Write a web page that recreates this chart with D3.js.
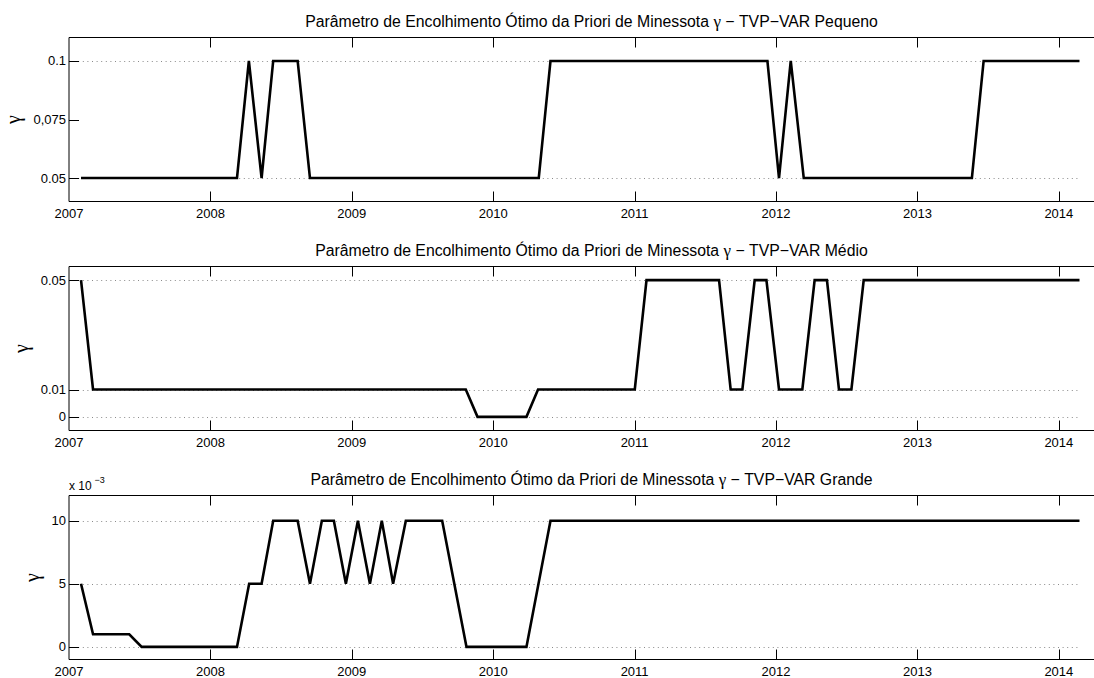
<!DOCTYPE html>
<html><head><meta charset="utf-8">
<script src="https://cdn.jsdelivr.net/npm/d3@7"></script>
<style>
body{margin:0;background:#fff;}
svg{display:block;font-family:"Liberation Sans",Arial,Helvetica,sans-serif;}
.greek{font-family:"Liberation Serif","DejaVu Serif",serif;}
</style>
</head><body><svg id="c" width="1094" height="678"></svg>
<script>
// ---------- data ----------
const yearTicks = [2007, 2008, 2009, 2010, 2011, 2012, 2013, 2014];
const yearLabels = ["2007", "2008", "2009", "2010", "2011", "2012", "2013", "2014"];
const xDomain = [2007, 2014.39];

const titlePrefix = "Parâmetro de Encolhimento Ótimo da Priori de Minessota ";
const titleGreek = "γ";
const titleSuffixes = [" − TVP−VAR Pequeno", " − TVP−VAR Médio", " − TVP−VAR Grande"];

// TVP-VAR Pequeno (vertices: decimal year, gamma)
const pequenoDates  = [2007.085, 2008.188, 2008.272, 2008.362, 2008.444, 2008.617, 2008.704, 2010.322, 2010.405, 2011.939, 2012.021, 2012.104, 2012.196, 2013.385, 2013.468, 2014.146];
const pequenoValues = [0.05, 0.05, 0.1, 0.05, 0.1, 0.1, 0.05, 0.05, 0.1, 0.1, 0.05, 0.1, 0.05, 0.05, 0.1, 0.1];

// TVP-VAR Médio
const medioDates  = [2007.085, 2007.170, 2009.806, 2009.889, 2010.235, 2010.317, 2011.001, 2011.084, 2011.597, 2011.679, 2011.762, 2011.849, 2011.932, 2012.021, 2012.186, 2012.273, 2012.360, 2012.445, 2012.533, 2012.620, 2014.146];
const medioValues = [0.05, 0.01, 0.01, 0, 0, 0.01, 0.01, 0.05, 0.05, 0.01, 0.01, 0.05, 0.05, 0.01, 0.01, 0.05, 0.05, 0.01, 0.01, 0.05, 0.05];

// TVP-VAR Grande
const grandeDates  = [2007.085, 2007.170, 2007.426, 2007.514, 2008.188, 2008.274, 2008.362, 2008.444, 2008.617, 2008.704, 2008.788, 2008.873, 2008.958, 2009.043, 2009.128, 2009.212, 2009.292, 2009.382, 2009.639, 2009.811, 2010.235, 2010.405, 2014.146];
const grandeValues = [0.005, 0.001, 0.001, 0, 0, 0.005, 0.005, 0.01, 0.01, 0.005, 0.01, 0.01, 0.005, 0.01, 0.005, 0.01, 0.005, 0.01, 0.01, 0, 0, 0.01, 0.01];

// y axes
const pequenoDomain = [0.04, 0.11];
const pequenoTicks = [0.05, 0.075, 0.1];
const pequenoTickLabels = ["0.05", "0,075", "0.1"];
const pequenoGrid = [0.05, 0.1];

const medioDomain = [-0.005, 0.055];
const medioTicks = [0, 0.01, 0.05];
const medioTickLabels = ["0", "0.01", "0.05"];
const medioGrid = [0, 0.01, 0.05];

const grandeDomain = [-0.001, 0.012];
const grandeTicks = [0, 0.005, 0.01];
const grandeTickLabels = ["0", "5", "10"];
const grandeGrid = [0, 0.005, 0.01];

const panels = [
  {suffix: titleSuffixes[0], dates: pequenoDates, values: pequenoValues, domain: pequenoDomain, ticks: pequenoTicks, labels: pequenoTickLabels, grid: pequenoGrid, exponent: null},
  {suffix: titleSuffixes[1], dates: medioDates, values: medioValues, domain: medioDomain, ticks: medioTicks, labels: medioTickLabels, grid: medioGrid, exponent: null},
  {suffix: titleSuffixes[2], dates: grandeDates, values: grandeValues, domain: grandeDomain, ticks: grandeTicks, labels: grandeTickLabels, grid: grandeGrid, exponent: "−3"}
];

// ---------- layout ----------
const svg = d3.select("#c");
const left = 69, right = 1114;
const tops = [37.5, 266.5, 495.5];
const plotH = 164;
const tickLen = 10;

const x = d3.scaleLinear().domain(xDomain).range([left, right]);

panels.forEach((p, i) => {
  const top = tops[i], bottom = top + plotH;
  const y = d3.scaleLinear().domain(p.domain).range([bottom, top]);
  const g = svg.append("g");
  const lastX = x(d3.max(p.dates));

  // grid lines (dotted)
  g.selectAll("line.grid").data(p.grid).join("line")
    .attr("x1", left).attr("x2", lastX)
    .attr("y1", d => Math.round(y(d)) + 0.5).attr("y2", d => Math.round(y(d)) + 0.5)
    .attr("stroke", "#8a8a8a").attr("stroke-width", 1)
    .attr("stroke-dasharray", "1 3.6");

  // box lines (left, top, bottom)
  g.append("path")
    .attr("d", `M${right},${top}H${left}V${bottom}H${right}`)
    .attr("fill", "none").attr("stroke", "#000").attr("stroke-width", 1);

  // x ticks top and bottom
  const xt = yearTicks.slice(1);
  g.selectAll("line.xtb").data(xt).join("line")
    .attr("x1", d => Math.round(x(d)) + 0.5).attr("x2", d => Math.round(x(d)) + 0.5)
    .attr("y1", bottom).attr("y2", bottom - tickLen)
    .attr("stroke", "#000").attr("stroke-width", 1);
  g.selectAll("line.xtt").data(xt).join("line")
    .attr("x1", d => Math.round(x(d)) + 0.5).attr("x2", d => Math.round(x(d)) + 0.5)
    .attr("y1", top).attr("y2", top + tickLen)
    .attr("stroke", "#000").attr("stroke-width", 1);

  // x tick labels
  g.selectAll("text.xl").data(yearTicks).join("text")
    .attr("x", d => x(d)).attr("y", bottom + 16)
    .attr("text-anchor", "middle").attr("font-size", 13).attr("fill", "#000")
    .text((d, k) => yearLabels[k]);

  // y ticks
  g.selectAll("line.yt").data(p.ticks).join("line")
    .attr("x1", left).attr("x2", left + tickLen)
    .attr("y1", d => Math.round(y(d)) + 0.5).attr("y2", d => Math.round(y(d)) + 0.5)
    .attr("stroke", "#000").attr("stroke-width", 1);

  const yl = g.selectAll("text.yl").data(p.ticks).join("text")
    .attr("x", left - 3).attr("y", d => y(d))
    .attr("dy", "0.35em")
    .attr("text-anchor", "end").attr("font-size", 13).attr("fill", "#000")
    .text((d, k) => p.labels[k]);
  let maxW = 0;
  yl.each(function(){ maxW = Math.max(maxW, this.getComputedTextLength()); });

  // y label gamma
  const gx = left - 3 - maxW - 13;
  const gy = (top + bottom) / 2;
  g.append("text")
    .attr("class", "greek")
    .attr("transform", `translate(${gx},${gy}) rotate(-90)`)
    .attr("text-anchor", "middle").attr("font-size", 20).attr("fill", "#000")
    .text("γ");

  // title
  const t = g.append("text")
    .attr("x", (left + right) / 2).attr("y", top - 11)
    .attr("text-anchor", "middle").attr("font-size", 15.8).attr("fill", "#000");
  t.append("tspan").text(titlePrefix);
  t.append("tspan").attr("class", "greek").attr("font-size", 17).text(titleGreek);
  t.append("tspan").text(p.suffix);

  // exponent label
  if (p.exponent) {
    g.append("text").attr("x", left).attr("y", top - 6)
      .attr("font-size", 12).attr("fill", "#000").text("x 10");
    g.append("text").attr("x", left + 25.5).attr("y", top - 13)
      .attr("font-size", 9).attr("fill", "#000").text(p.exponent);
  }

  // data line
  const pts = p.dates.map((d, k) => [d, p.values[k]]);
  g.append("path")
    .attr("d", d3.line().x(d => x(d[0])).y(d => y(d[1]))(pts))
    .attr("fill", "none").attr("stroke", "#000").attr("stroke-width", 2.6)
    .attr("stroke-linejoin", "miter").attr("stroke-miterlimit", 2);
});
</script>
</body></html>
